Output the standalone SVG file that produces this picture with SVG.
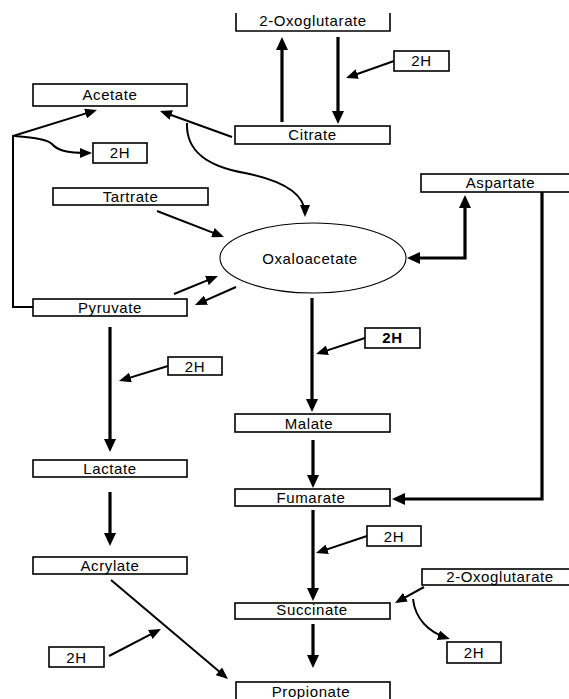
<svg xmlns="http://www.w3.org/2000/svg" width="569" height="699" viewBox="0 0 569 699">
<style>
.box{fill:#fff;stroke:#000;stroke-width:1.6}
.open{fill:none;stroke:#000;stroke-width:1.6}
.t{font-family:"Liberation Sans",Arial,sans-serif;font-size:15px;letter-spacing:0.6px;text-anchor:middle;fill:#000}
.thick{fill:none;stroke:#000;stroke-width:3.2;marker-end:url(#a)}
.thin{fill:none;stroke:#000;stroke-width:2;marker-end:url(#b)}
.plain{fill:none;stroke:#000;stroke-width:2}
</style>
<defs>
<marker id="a" markerUnits="userSpaceOnUse" markerWidth="14" markerHeight="12" refX="9" refY="6" orient="auto-start-reverse"><path d="M0,0 L13,6 L0,12 z" fill="#000"/></marker>
<marker id="b" markerUnits="userSpaceOnUse" markerWidth="13" markerHeight="10" refX="9" refY="5" orient="auto-start-reverse"><path d="M0,0 L12,5 L0,10 z" fill="#000"/></marker>
</defs>
<rect width="569" height="699" fill="#fff"/>
<g id="connectors">
<path class="thick" d="M282,122 V41"/>
<path class="thick" d="M338,37 V120"/>
<path class="thin" d="M394,61 L348.8,77"/>
<path class="thin" d="M232,137 L162.8,112"/>
<path class="thin" d="M33,307 H13 V136 L94.1,110.9"/>
<path class="thin" d="M13,136 C35,138 47,139 52,144 C57,150 65,153 89,153"/>
<path class="thin" d="M187,123 C186,150 205,166 245,173 C285,181 305,195 305,214"/>
<path class="thin" d="M157,211 L221.2,235.9"/>
<path class="thin" d="M174,294 L215.2,277.1"/>
<path class="thin" d="M236,287 L197.7,303.8"/>
<path class="thick" style="marker-start:url(#a)" d="M411,258 H465 V199"/>
<path class="thick" d="M542,192 V499 H396"/>
<path class="thick" d="M312,298 V408"/>
<path class="thin" d="M365,338 L318.9,353.1"/>
<path class="thick" d="M313,440 V484"/>
<path class="thick" d="M313,510 V597"/>
<path class="thin" d="M367,536 L318.8,552.1"/>
<path class="thick" d="M313,624 V664"/>
<path class="thin" d="M424,587 L397.6,601.6"/>
<path class="thin" d="M413,599 C415,618 428,632 447,638"/>
<path class="thick" d="M110,327 V448"/>
<path class="thin" d="M168,366 L121.9,380.1"/>
<path class="thick" d="M110,492 V542"/>
<path class="thin" d="M111,580 L225.7,677.1"/>
<path class="thin" d="M109,656 L158.3,630.4"/>
</g>
<g id="oxoglutarate-top"><path class="open" d="M236,13 V31 H390 V13"/><text class="t" x="313" y="26">2-Oxoglutarate</text></g>
<g id="h2-top"><rect class="box" x="394" y="51" width="55" height="20"/><text class="t" x="421.5" y="66">2H</text></g>
<g id="citrate"><rect class="box" x="235" y="126" width="155" height="18"/><text class="t" x="312.5" y="140">Citrate</text></g>
<g id="acetate"><rect class="box" x="33" y="84" width="154" height="22"/><text class="t" x="110" y="100">Acetate</text></g>
<g id="h2-acetate"><rect class="box" x="93" y="143" width="54" height="20"/><text class="t" x="120" y="158">2H</text></g>
<g id="tartrate"><rect class="box" x="53" y="188" width="155" height="17"/><text class="t" x="130.5" y="202">Tartrate</text></g>
<g id="aspartate"><rect class="box" x="421" y="174" width="159" height="18"/><text class="t" x="500.5" y="188">Aspartate</text></g>
<g id="oxaloacetate"><ellipse cx="313" cy="258" rx="93" ry="35" fill="#fff" stroke="#000" stroke-width="1.1"/><text class="t" x="310" y="264">Oxaloacetate</text></g>
<g id="pyruvate"><rect class="box" x="33" y="299" width="154" height="17"/><text class="t" x="110" y="313">Pyruvate</text></g>
<g id="h2-malate"><rect class="box" x="365" y="328" width="55" height="20"/><text class="t" x="392.5" y="343" font-weight="bold">2H</text></g>
<g id="h2-lactate"><rect class="box" x="168" y="357" width="54" height="18"/><text class="t" x="195" y="372">2H</text></g>
<g id="malate"><rect class="box" x="235" y="414" width="155" height="18"/><text class="t" x="309" y="429">Malate</text></g>
<g id="lactate"><rect class="box" x="33" y="460" width="154" height="17"/><text class="t" x="110" y="474">Lactate</text></g>
<g id="fumarate"><rect class="box" x="235" y="489" width="155" height="17"/><text class="t" x="311" y="503">Fumarate</text></g>
<g id="h2-succinate"><rect class="box" x="367" y="526" width="54" height="20"/><text class="t" x="394" y="542">2H</text></g>
<g id="acrylate"><rect class="box" x="33" y="557" width="154" height="17"/><text class="t" x="110" y="571">Acrylate</text></g>
<g id="oxoglutarate-bottom"><rect class="box" x="422" y="569" width="156" height="16"/><text class="t" x="500" y="582">2-Oxoglutarate</text></g>
<g id="succinate"><rect class="box" x="235" y="603" width="155" height="16"/><text class="t" x="312" y="615">Succinate</text></g>
<g id="h2-bottom-right"><rect class="box" x="447" y="642" width="54" height="21"/><text class="t" x="474" y="658">2H</text></g>
<g id="h2-bottom-left"><rect class="box" x="49" y="647" width="55" height="20"/><text class="t" x="76.5" y="663">2H</text></g>
<g id="propionate"><rect class="box" x="236" y="682" width="154" height="30"/><text class="t" x="311" y="697">Propionate</text></g>
</svg>
